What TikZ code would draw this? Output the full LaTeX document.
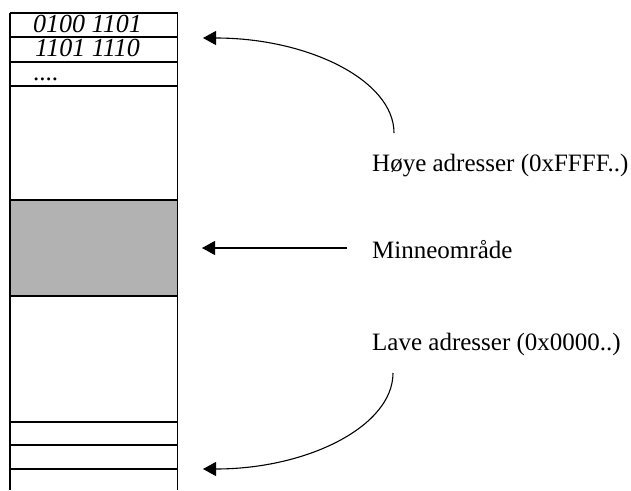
\documentclass[tikz,border=0pt]{standalone}
\usepackage{fontspec}
\setmainfont{Liberation Serif}
\usetikzlibrary{arrows.meta}
\begin{document}
\begin{tikzpicture}[x=1pt,y=-1pt,
  rule/.style={line width=1.1pt},
  lbl/.style={anchor=base west, inner sep=0pt, font=\fontsize{25}{30}\selectfont},
  bits/.style={anchor=base west, inner sep=0pt, font=\fontsize{26}{30}\selectfont\itshape},
  ptr/.style={line width=1.1pt, -{Triangle[length=13pt,width=14pt]}}]
\useasboundingbox (0,0) rectangle (631,490);

% shaded memory area
\fill[black!30] (10,200) rectangle (177.5,296);

% memory column: side walls and cell boundaries
\draw[rule] (10,13) -- (10,490) (177.5,13) -- (177.5,490);
\foreach \yy in {13,37,62,86,200,296,422,445,469}
  \draw[rule] (10,\yy) -- (177.5,\yy);

% cell contents
\node[bits] (b1) at (33,32.5) {0100 1101};
\node[bits] (b2) at (35,56.5) {1101 1110};
\node[lbl]  (b3) at (33,80) {....};

% labels
\node[lbl] (hi)  at (372,171.7) {Høye adresser (0xFFFF..)};
\node[lbl] (mem) at (372,258)   {Minneområde};
\node[lbl] (lo)  at (372,350)   {Lave adresser (0x0000..)};

% arrow ends
\coordinate (hiSrc)  at (394,133);
\coordinate (hiTip)  at (203,38);
\coordinate (memSrc) at (347,248);
\coordinate (memTip) at (202,248);
\coordinate (loSrc)  at (393,373);
\coordinate (loTip)  at (203,469);

% pointers
\draw[ptr] (hiSrc) .. controls (394,80.5) and (308.5,38) .. (hiTip);
\draw[ptr] (memSrc) -- (memTip);
\draw[ptr] (loSrc) .. controls (393,426) and (308,469) .. (loTip);
\end{tikzpicture}
\end{document}
